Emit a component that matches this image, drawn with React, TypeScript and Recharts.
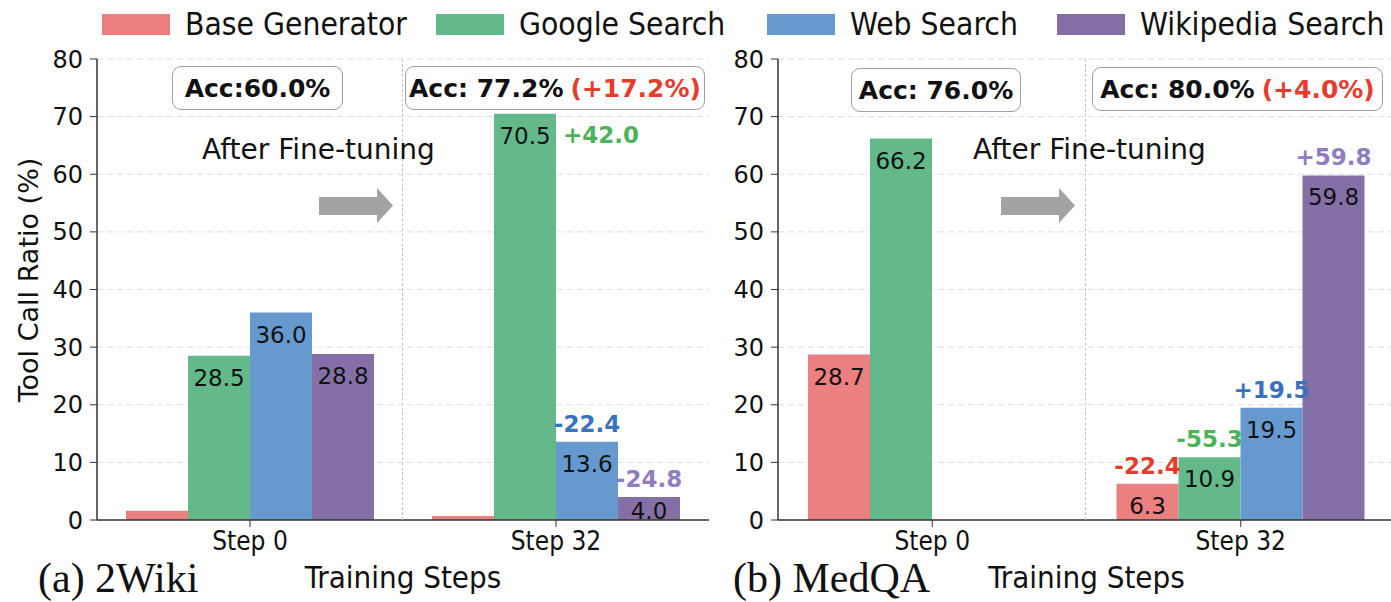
import { Bar, BarChart, CartesianGrid, LabelList, XAxis, YAxis } from 'recharts';

const steps = ['Step 0', 'Step 32'];
const seriesNames = ['Base Generator', 'Google Search', 'Web Search', 'Wikipedia Search'];
const yTicks = [0, 10, 20, 30, 40, 50, 60, 70, 80];

// (a) 2Wiki
const wikiBase = [1.6, 0.7];
const wikiGoogle = [28.5, 70.5];
const wikiWeb = [36.0, 13.6];
const wikiWikipedia = [28.8, 4.0];
const wikiBaseDelta = [null, null];
const wikiGoogleDelta = [null, 42.0];
const wikiWebDelta = [null, -22.4];
const wikiWikipediaDelta = [null, -24.8];

// (b) MedQA
const medBase = [28.7, 6.3];
const medGoogle = [66.2, 10.9];
const medWeb = [0, 19.5];
const medWikipedia = [0, 59.8];
const medBaseDelta = [null, -22.4];
const medGoogleDelta = [null, -55.3];
const medWebDelta = [null, 19.5];
const medWikipediaDelta = [null, 59.8];

const BAR_COLORS = ['#EC7F7F', '#63B98A', '#6699CD', '#8470A6'];
const DELTA_COLORS = ['#E63C2E', '#4EB15C', '#3A70C0', '#8F7DC0'];
const LEGEND_LEFT = [102, 436, 767, 1057];
const SANS = '"DejaVu Sans", sans-serif';
const COND = '"DejaVu Sans Condensed", "Liberation Sans Narrow", "DejaVu Sans", sans-serif';
const SERIF = '"Liberation Serif", serif';
const AXIS = '#333333';

function buildRows(base: number[], google: number[], web: number[], wiki: number[], deltas: (number | null)[][]) {
  return steps.map((step, i) => ({
    step,
    base: base[i],
    google: google[i],
    web: web[i],
    wiki: wiki[i],
    baseDelta: deltas[0][i],
    googleDelta: deltas[1][i],
    webDelta: deltas[2][i],
    wikiDelta: deltas[3][i],
  }));
}

const wikiRows = buildRows(wikiBase, wikiGoogle, wikiWeb, wikiWikipedia, [
  wikiBaseDelta, wikiGoogleDelta, wikiWebDelta, wikiWikipediaDelta,
]);
const medRows = buildRows(medBase, medGoogle, medWeb, medWikipedia, [
  medBaseDelta, medGoogleDelta, medWebDelta, medWikipediaDelta,
]);

function ValueLabel(props: any) {
  const { x, y, width, height, value } = props;
  if (value == null || value <= 2) return null;
  const cy = Math.min(y + 22, y + height - 9);
  return (
    <text x={x + width / 2} y={cy} textAnchor="middle" dominantBaseline="central"
      fontFamily={SANS} fontSize={23} fill="#111">
      {Number(value).toFixed(1)}
    </text>
  );
}

function makeDeltaLabel(color: string, values: number[]) {
  return (props: any) => {
    const { x, y, width, value, index } = props;
    if (value == null) return null;
    const txt = (value > 0 ? '+' : '-') + Math.abs(value).toFixed(1);
    const beside = values[index] > 68;
    return (
      <text
        x={beside ? x + width + 7 : x + width / 2}
        y={beside ? y + 21 : y - 18}
        textAnchor={beside ? 'start' : 'middle'}
        dominantBaseline="central"
        fontFamily={SANS}
        fontWeight="bold"
        fontSize={23}
        fill={color}
      >
        {txt}
      </text>
    );
  };
}

function Panel({ rows, vals, width, yWidth, right }: {
  rows: any[]; vals: number[][]; width: number; yWidth: number; right: number;
}) {
  const keys = ['base', 'google', 'web', 'wiki'];
  return (
    <BarChart width={width} height={602} data={rows} barSize={62} barGap={0}
      margin={{ top: 59, right, left: 0, bottom: 0 }}>
      <CartesianGrid vertical={false} stroke="#dddddd" strokeDasharray="6 4" />
      <XAxis
        dataKey="step"
        height={82}
        tickSize={7}
        tickMargin={5}
        tickLine={{ stroke: AXIS }}
        axisLine={{ stroke: AXIS, strokeWidth: 1.5 }}
        tick={{ fontSize: 26, fontFamily: COND, fill: '#111' }}
        label={{ value: 'Training Steps', position: 'insideBottom', offset: 14,
          style: { fontSize: 31, fontFamily: COND, fill: '#111' } }}
      />
      <XAxis xAxisId="top" orientation="top" dataKey="step" height={0} tick={false} tickLine={false}
        axisLine={{ stroke: AXIS, strokeWidth: 1.5 }} />
      <YAxis
        width={yWidth}
        domain={[0, 80]}
        ticks={yTicks}
        tickSize={7}
        tickMargin={7}
        tickLine={{ stroke: AXIS }}
        axisLine={{ stroke: AXIS, strokeWidth: 1.5 }}
        tick={{ fontSize: 24, fontFamily: SANS, fill: '#111' }}
      />
      <YAxis yAxisId="right" orientation="right" width={0} domain={[0, 80]} tick={false} tickLine={false}
        axisLine={{ stroke: AXIS, strokeWidth: 1.5 }} />
      {keys.map((k, i) => (
        <Bar key={k} dataKey={k} name={seriesNames[i]} fill={BAR_COLORS[i]} isAnimationActive={false}>
          <LabelList dataKey={k} content={ValueLabel} />
          <LabelList dataKey={k + 'Delta'} content={makeDeltaLabel(DELTA_COLORS[i], vals[i])} />
        </Bar>
      ))}
    </BarChart>
  );
}

function AccBox({ left, top, w, acc, gain }: { left: number; top: number; w: number; acc: string; gain?: string }) {
  return (
    <div style={{
      position: 'absolute', left, top, width: w, height: 44, boxSizing: 'border-box',
      border: '1.5px solid #a0a0a0', borderRadius: 9, background: '#fff',
      display: 'flex', alignItems: 'center', justifyContent: 'center',
      fontFamily: SANS, fontWeight: 'bold', fontSize: 25, color: '#111', whiteSpace: 'nowrap',
    }}>
      {acc}
      {gain && <span style={{ color: '#E63C2E', marginLeft: 7 }}>{gain}</span>}
    </div>
  );
}

function Arrow({ left }: { left: number }) {
  return (
    <svg style={{ position: 'absolute', left, top: 186 }} width={76} height={40}>
      <polygon points="0,11 58,11 58,2 74,19.5 58,37 58,29 0,29" fill="#a3a3a3" />
    </svg>
  );
}

function MidLine({ left }: { left: number }) {
  return (
    <div style={{
      position: 'absolute', left, top: 59, height: 461, width: 0,
      borderLeft: '1.5px dashed #c4c4c4',
    }} />
  );
}

export default function App() {
  return (
    <div style={{
      position: 'fixed', left: 0, top: 0, width: 1391, height: 602, overflow: 'hidden',
      background: '#fff', fontFamily: SANS,
    }}>
      <div style={{ position: 'absolute', left: 0, top: 0 }}>
        <Panel rows={wikiRows} vals={[wikiBase, wikiGoogle, wikiWeb, wikiWikipedia]}
          width={720} yWidth={97} right={11} />
      </div>
      <div style={{ position: 'absolute', left: 700, top: 0 }}>
        <Panel rows={medRows} vals={[medBase, medGoogle, medWeb, medWikipedia]}
          width={700} yWidth={78} right={5} />
      </div>

      <MidLine left={402} />
      <MidLine left={1085} />

      {/* legend */}
      {seriesNames.map((n, i) => (
        <div key={n} style={{ position: 'absolute', left: LEGEND_LEFT[i], top: 7, height: 34,
          display: 'flex', alignItems: 'center', whiteSpace: 'nowrap' }}>
          <div style={{ width: 68, height: 21, background: BAR_COLORS[i], marginRight: 15 }} />
          <span style={{ fontFamily: COND, fontSize: 31.5, color: '#111' }}>{n}</span>
        </div>
      ))}

      <div style={{ position: 'absolute', left: 28, top: 280, transform: 'translate(-50%, -50%) rotate(-90deg)',
        fontSize: 27, fontFamily: SANS, color: '#111', whiteSpace: 'nowrap' }}>
        Tool Call Ratio (%)
      </div>

      <AccBox left={172} top={66} w={171} acc="Acc:60.0%" />
      <AccBox left={405} top={66} w={300} acc="Acc: 77.2%" gain="(+17.2%)" />
      <AccBox left={851} top={68} w={170} acc="Acc: 76.0%" />
      <AccBox left={1092} top={67} w={291} acc="Acc: 80.0%" gain="(+4.0%)" />

      <div style={{ position: 'absolute', left: 202, top: 136, fontSize: 28, lineHeight: 1, color: '#111' }}>
        After Fine-tuning
      </div>
      <div style={{ position: 'absolute', left: 973, top: 136, fontSize: 28, lineHeight: 1, color: '#111' }}>
        After Fine-tuning
      </div>
      <Arrow left={319} />
      <Arrow left={1001} />

      <div style={{ position: 'absolute', left: 38, top: 557, fontFamily: SERIF,
        fontSize: 42, lineHeight: 1, color: '#111' }}>
        (a) 2Wiki
      </div>
      <div style={{ position: 'absolute', left: 733, top: 557, fontFamily: SERIF,
        fontSize: 42, lineHeight: 1, color: '#111' }}>
        (b) MedQA
      </div>
    </div>
  );
}
